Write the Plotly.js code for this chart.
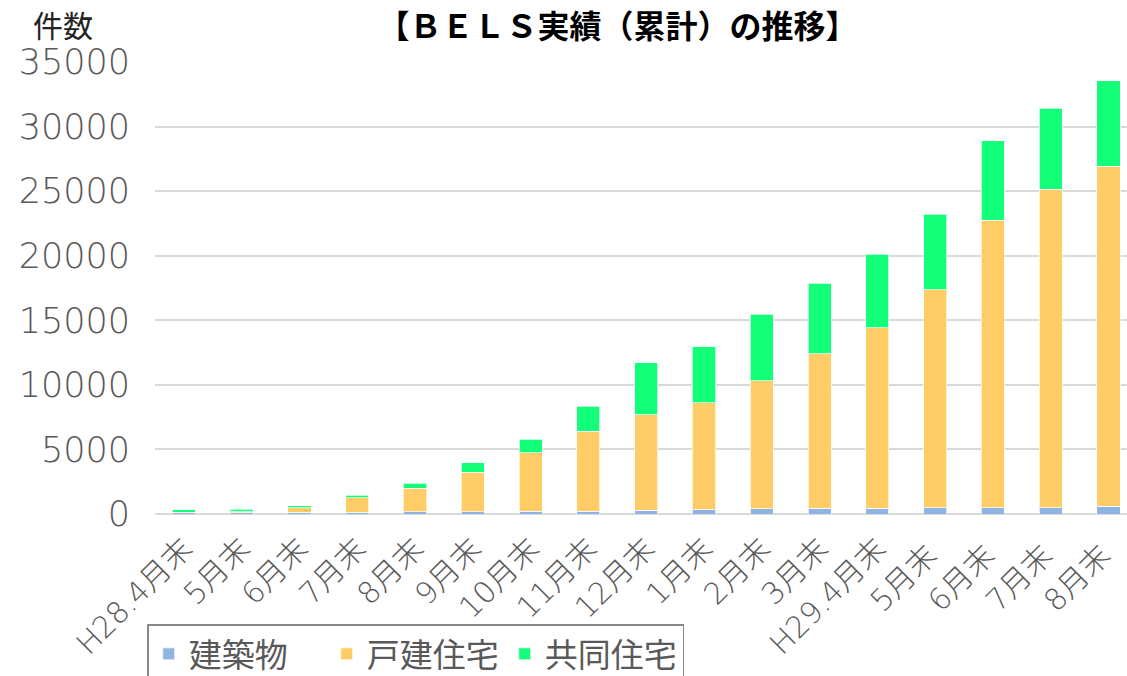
<!DOCTYPE html>
<html>
<head>
<meta charset="utf-8">
<script src="https://cdn.plot.ly/plotly-3.0.1.min.js"></script>
<style>
html,body{margin:0;padding:0;overflow:hidden;background:#fff;}
#chart{width:1127px;height:676px;}
</style>
</head>
<body>
<div id="chart"></div>
<script>
// Categories (x-axis tick labels)
const categories = ["H28.4月末","5月末","6月末","7月末","8月末","9月末","10月末","11月末","12月末","1月末","2月末","3月末","H29.4月末","5月末 ","6月末 ","7月末 ","8月末 "];
// Series values (件数, cumulative)
const kenchikubutsu = [90, 100, 120, 150, 160, 170, 200, 210, 280, 340, 420, 460, 460, 470, 490, 490, 600];
const kodateJutaku  = [60, 90, 360, 1100, 1830, 3050, 4550, 6180, 7400, 8290, 9890, 11940, 13950, 16880, 22240, 24640, 26330];
const kyodoJutaku   = [170, 170, 160, 190, 410, 730, 1050, 1960, 4020, 4310, 5160, 5460, 5720, 5870, 6190, 6280, 6600];
const seriesNames = ["建築物", "戸建住宅", "共同住宅"];
const yTickVals = [0, 5000, 10000, 15000, 20000, 25000, 30000, 35000];

const cjk = "'Noto Sans CJK JP', 'Noto Sans', sans-serif";
const mixed = "'DejaVu Sans', 'Noto Sans CJK JP', sans-serif";
const lineStyle = {color: "rgba(255,255,255,0.7)", width: 1};

const traces = [
  {type: "bar", name: seriesNames[0], x: categories, y: kenchikubutsu, marker: {color: "#8EB4E3", line: lineStyle}},
  {type: "bar", name: seriesNames[1], x: categories, y: kodateJutaku, marker: {color: "#FFCC66", line: lineStyle}},
  {type: "bar", name: seriesNames[2], x: categories, y: kyodoJutaku, marker: {color: "#12FF7A", line: lineStyle}}
];

const layout = {
  width: 1127,
  height: 676,
  margin: {l: 155, r: 0, t: 62, b: 162, autoexpand: false},
  paper_bgcolor: "#fff",
  plot_bgcolor: "#fff",
  barmode: "stack",
  bargap: 0.6,
  showlegend: true,
  font: {family: cjk, color: "#595959"},
  title: {
    text: "【ＢＥＬＳ実績（累計）の推移】",
    font: {family: cjk, size: 32, color: "#000", weight: "bold"},
    x: 0.548, xref: "container", xanchor: "center",
    y: 0.961, yref: "container", yanchor: "middle"
  },
  xaxis: {
    type: "category",
    range: [-0.5, 16.32],
    tickangle: -45,
    tickfont: {family: mixed, size: 30, color: "#595959", weight: 200},
    ticklabelstandoff: 10,
    showgrid: false,
    showline: false,
    ticks: "",
    zeroline: false,
    automargin: false,
    fixedrange: true
  },
  yaxis: {
    range: [0, 35000],
    tickvals: yTickVals,
    ticktext: yTickVals.map(String),
    tickfont: {family: "'DejaVu Sans', sans-serif", size: 35, color: "#595959", weight: 200},
    showgrid: true,
    gridcolor: "#d9d9d9",
    gridwidth: 2,
    zeroline: true,
    zerolinecolor: "#d9d9d9",
    zerolinewidth: 2,
    ticks: "",
    ticklabelstandoff: 24,
    automargin: false,
    fixedrange: true
  },
  legend: {
    orientation: "h",
    x: -0.008, xanchor: "left",
    y: -0.2443, yanchor: "top",
    bordercolor: "#888",
    borderwidth: 1.5,
    font: {family: cjk, size: 33, color: "#595959"},
    itemwidth: 30,
    entrywidth: 133,
    entrywidthmode: "pixels",
    traceorder: "normal"
  },
  annotations: [{
    text: "件数",
    xref: "paper", yref: "paper",
    x: (63 - 155) / 972, y: (514.4 - 24) / 452.7,
    xanchor: "center", yanchor: "middle",
    showarrow: false,
    font: {family: cjk, size: 30, color: "#222"}
  }]
};

Plotly.newPlot("chart", traces, layout, {displayModeBar: false, staticPlot: true});
</script>
</body>
</html>
